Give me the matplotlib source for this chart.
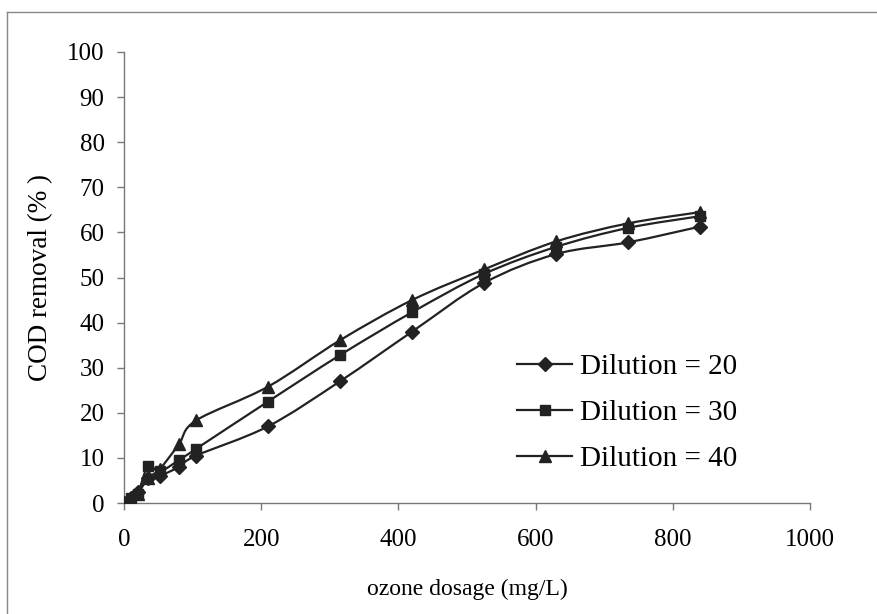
import numpy as np
import matplotlib
matplotlib.use("Agg")
import matplotlib.pyplot as plt
from matplotlib.path import Path
from matplotlib.patches import PathPatch
from matplotlib.lines import Line2D

plt.rcParams['font.family'] = ['Liberation Serif', 'DejaVu Serif']

# ozone dosage (mg/L) and COD removal (%) for each dilution
dosage = [0, 10, 20, 35, 52, 80, 105, 210, 315, 420, 525, 630, 735, 840]
dil20 = [0, 1, 2.5, 5.5, 6, 8, 10.5, 17, 27, 38, 48.8, 55.2, 57.8, 61.3]
dil30 = [0, 1, 2, 8.2, 7, 9.5, 12, 22.5, 32.8, 42.3, 50.8, 56.8, 61, 63.6]
dil40 = [0, 0.5, 2, 5.5, 7.5, 13, 18.3, 25.8, 36.1, 45, 51.8, 58, 62, 64.5]
labels = ['Dilution = 20', 'Dilution = 30', 'Dilution = 40']
markers = ['D', 's', '^']
msizes = [7.5, 7.5, 9]

xticks = [0, 200, 400, 600, 800, 1000]
yticks = list(range(0, 101, 10))

ink = '#222222'


def smooth_path(x, y):
    # cubic bezier through the points (catmull-rom style tangents)
    pts = np.column_stack([x, y]).astype(float)
    n = len(pts)
    verts = [pts[0]]
    codes = [Path.MOVETO]
    for i in range(n - 1):
        p0 = pts[i - 1] if i > 0 else pts[i]
        p1 = pts[i]
        p2 = pts[i + 1]
        p3 = pts[i + 2] if i + 2 < n else pts[i + 1]
        c1 = p1 + (p2 - p0) / 6.0
        c2 = p2 - (p3 - p1) / 6.0
        verts += [c1, c2, p2]
        codes += [Path.CURVE4] * 3
    return Path(verts, codes)


fig = plt.figure(figsize=(8.77, 6.14), dpi=100)
ax = fig.add_axes([124/877, 1 - 503/614, (810 - 124)/877, (503 - 52)/614])

handles = []
for ys, lab, mk, ms in zip([dil20, dil30, dil40], labels, markers, msizes):
    ax.add_patch(PathPatch(smooth_path(dosage, ys), fill=False,
                           edgecolor=ink, lw=1.6, zorder=2))
    ax.plot(dosage, ys, ls='none', marker=mk, ms=ms, color=ink, zorder=3)
    handles.append(Line2D([], [], color=ink, lw=1.6, marker=mk, ms=ms))

ax.set_xlim(0, 1000)
ax.set_ylim(0, 100)
ax.set_xticks(xticks)
ax.set_yticks(yticks)
ax.tick_params(direction='out', length=5, width=1, color='#777777',
               labelsize=18)
ax.tick_params(axis='y', pad=9)
ax.tick_params(axis='x', pad=14)

for side in ['top', 'right']:
    ax.spines[side].set_visible(False)
for side in ['left', 'bottom']:
    ax.spines[side].set_color('#777777')
    ax.spines[side].set_linewidth(1)

ax.set_xlabel('ozone dosage (mg/L)', fontsize=17, labelpad=20)
ax.set_ylabel('COD removal (% )', fontsize=19.5, labelpad=10)

ax.legend(handles, labels, loc='center left', bbox_to_anchor=(517/877, 1 - 413/614),
          bbox_transform=fig.transFigure, borderaxespad=0, borderpad=0,
          frameon=False, fontsize=21, handlelength=1.9, handletextpad=0.25,
          labelspacing=0.68)

# outer chart border
fig.add_artist(Line2D([7/877, 7/877], [0, 1 - 12/614], color='#888888', lw=1))
fig.add_artist(Line2D([7/877, 1], [1 - 12/614, 1 - 12/614], color='#888888', lw=1))

fig.savefig('out.png', dpi=100, facecolor='white')
